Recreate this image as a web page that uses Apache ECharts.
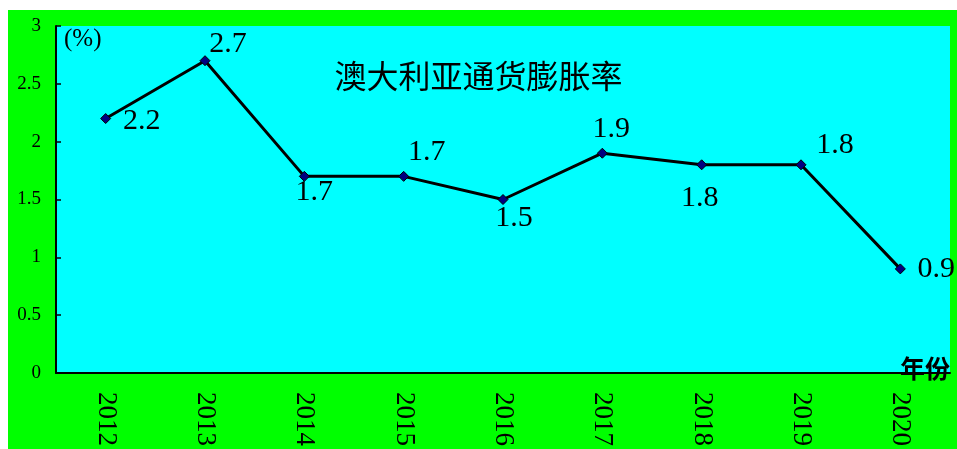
<!DOCTYPE html>
<html>
<head>
<meta charset="utf-8">
<script src="https://cdn.jsdelivr.net/npm/echarts@6/dist/echarts.min.js"></script>
<style>
html,body{margin:0;padding:0;background:#fff;}
#c{width:957px;height:449px;}
</style>
</head>
<body>
<div id="c"></div>
<script>
var years = ['2012','2013','2014','2015','2016','2017','2018','2019','2020'];
var inflation = [2.2, 2.7, 1.7, 1.7, 1.5, 1.9, 1.8, 1.8, 0.9];
var yTicks = [0, 0.5, 1, 1.5, 2, 2.5, 3];
var titleText = '澳大利亚通货膨胀率';
var yName = '(%)';
var xName = '年份';

// label offsets (styling)
var labelOffsets = [[36,3],[23,-17],[10,16],[23,-24],[11,19],[9,-24],[-2,33],[34,-20],[36,0]];

var chart = echarts.init(document.getElementById('c'), null, {renderer:'canvas'});
var data = inflation.map(function(v,i){
  return {value:v, label:{offset:labelOffsets[i]}};
});
chart.setOption({
  backgroundColor:'#ffffff',
  animation:false,
  graphic:[{type:'rect', z:-10, silent:true, shape:{x:8,y:10,width:949,height:439}, style:{fill:'#00ff00'}}],
  title:{text:titleText, left:'center', top:55,
    textStyle:{fontFamily:'Noto Sans CJK SC', fontSize:32, fontWeight:'normal', color:'#000'}},
  grid:{left:56, top:26, right:7, bottom:76, show:true, backgroundColor:'#00ffff', borderWidth:0},
  xAxis:{type:'category', data:years, boundaryGap:true,
    name:xName, nameLocation:'end', nameGap:-50,
    nameTextStyle:{fontFamily:'Noto Sans CJK SC', fontSize:25, fontWeight:'bold', color:'#000', align:'left', verticalAlign:'bottom', lineHeight:10},
    axisLine:{lineStyle:{color:'#000', width:2}},
    axisTick:{inside:true, length:6, lineStyle:{color:'#000', width:1.5}},
    axisLabel:{rotate:-90, margin:19, color:'#000', fontFamily:'Liberation Serif', fontSize:27, offset:[-5,0]},
    splitLine:{show:false}},
  yAxis:{type:'value', min:yTicks[0], max:yTicks[yTicks.length-1], interval:0.5,
    name:yName, nameLocation:'end', nameGap:-26,
    nameTextStyle:{fontFamily:'Liberation Serif', fontSize:25, color:'#000', align:'left', padding:[0,0,0,8]},
    axisLine:{show:true, lineStyle:{color:'#000', width:2}},
    axisTick:{show:true, inside:true, length:5, lineStyle:{color:'#000', width:1.5}},
    axisLabel:{margin:15, color:'#000', fontFamily:'Liberation Serif', fontSize:19},
    splitLine:{show:false}},
  series:[{type:'line', data:data,
    lineStyle:{color:'#000', width:3},
    symbol:'diamond', symbolSize:10,
    itemStyle:{color:'#000080', borderColor:'#000', borderWidth:1},
    label:{show:true, position:'inside', align:'center', verticalAlign:'middle',
      color:'#000', fontFamily:'Liberation Serif', fontSize:30}
  }]
});
</script>
</body>
</html>
